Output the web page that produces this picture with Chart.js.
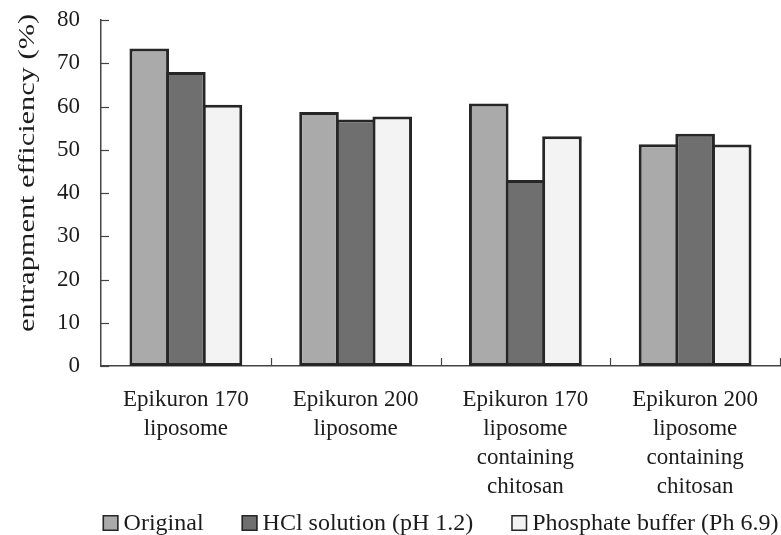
<!DOCTYPE html>
<html>
<head>
<meta charset="utf-8">
<script src="https://cdn.jsdelivr.net/npm/chart.js@4.4.1/dist/chart.umd.min.js"></script>
<style>
  html, body { margin: 0; padding: 0; background: #ffffff; }
  #wrap { width: 781px; height: 535px; position: relative; }
</style>
</head>
<body>
<div id="wrap"><canvas id="c" width="781" height="535"></canvas></div>
<script>
const categories = [
  ["Epikuron 170", "liposome"],
  ["Epikuron 200", "liposome"],
  ["Epikuron 170", "liposome", "containing", "chitosan"],
  ["Epikuron 200", "liposome", "containing", "chitosan"]
];
const seriesNames = ["Original", "HCl solution (pH 1.2)", "Phosphate buffer (Ph 6.9)"];
const originalValues = [73.4, 58.7, 60.7, 51.3];
const hclValues = [68.0, 57.0, 43.0, 53.7];
const phosphateValues = [60.4, 57.7, 53.1, 51.2];
const yTickValues = [0, 10, 20, 30, 40, 50, 60, 70, 80];
const yAxisTitle = "entrapment efficiency (%)";

const FONT = "'Liberation Serif', 'Times New Roman', serif";
const TEXT = "#1c1c1c";
const EDGE = "#262626";

const tickMarks = {
  id: 'tickMarks',
  afterDatasetsDraw(chart) {
    const ctx = chart.ctx;
    const x = chart.scales.x, y = chart.scales.y;
    ctx.save();
    ctx.strokeStyle = "#444";
    ctx.lineWidth = 1.2;
    yTickValues.forEach(v => {
      const py = Math.round(y.getPixelForValue(v)) + 0.5;
      ctx.beginPath();
      ctx.moveTo(x.left, py);
      ctx.lineTo(x.left + 8, py);
      ctx.stroke();
    });
    const half = (x.getPixelForValue(1) - x.getPixelForValue(0)) / 2;
    for (let i = 0; i < categories.length; i++) {
      const px = Math.round(x.getPixelForValue(i) + half) + 0.5;
      ctx.beginPath();
      ctx.moveTo(px, y.bottom);
      ctx.lineTo(px, y.bottom - 8);
      ctx.stroke();
    }
    ctx.restore();
  }
};

// y-axis title (stretched along its length like the reference)
const yTitle = {
  id: 'yTitle',
  afterDraw(chart) {
    const ctx = chart.ctx;
    const y = chart.scales.y;
    ctx.save();
    ctx.font = "23px " + FONT;
    ctx.fillStyle = TEXT;
    ctx.textAlign = 'center';
    ctx.textBaseline = 'middle';
    ctx.translate(28, y.getPixelForValue(40) - 20);
    ctx.rotate(-Math.PI / 2);
    ctx.scale(1.32, 1);
    ctx.fillText(yAxisTitle, 0, 0);
    ctx.restore();
  }
};

// legend drawn under the chart, centred on the plot area
const bottomLegend = {
  id: 'bottomLegend',
  afterDraw(chart) {
    const ctx = chart.ctx;
    const area = chart.chartArea;
    const box = 16, gap = 5, spacing = 38;
    ctx.save();
    ctx.font = "24px " + FONT;
    ctx.textBaseline = 'middle';
    ctx.textAlign = 'left';
    const items = chart.data.datasets.map(d => ({ text: d.label, fill: d.backgroundColor, w: ctx.measureText(d.label).width }));
    const total = items.reduce((s, it) => s + box + gap + it.w, 0) + spacing * (items.length - 1);
    let cx = (area.left + area.right) / 2 - total / 2;
    const cy = 523;
    items.forEach(it => {
      ctx.fillStyle = it.fill;
      ctx.fillRect(cx, cy - box / 2, box, box);
      ctx.strokeStyle = EDGE;
      ctx.lineWidth = 1.5;
      ctx.strokeRect(cx + 0.75, cy - box / 2 + 0.75, box - 1.5, box - 1.5);
      ctx.fillStyle = TEXT;
      ctx.fillText(it.text, cx + box + gap, cy + 1);
      cx += box + gap + it.w + spacing;
    });
    ctx.restore();
  }
};

new Chart(document.getElementById('c'), {
  type: 'bar',
  data: {
    labels: categories,
    datasets: [
      { label: seriesNames[0], data: originalValues, backgroundColor: "#aaaaaa" },
      { label: seriesNames[1], data: hclValues, backgroundColor: "#6f6f6f" },
      { label: seriesNames[2], data: phosphateValues, backgroundColor: "#f3f3f3" }
    ].map(d => Object.assign(d, {
      borderColor: EDGE, borderWidth: 3, borderSkipped: false,
      categoryPercentage: 0.647, barPercentage: 1.082
    }))
  },
  options: {
    responsive: false,
    animation: false,
    devicePixelRatio: 1,
    layout: { padding: { top: 20, right: 1, left: 0, bottom: 14 } },
    plugins: {
      legend: { display: false },
      tooltip: { enabled: false }
    },
    scales: {
      x: {
        grid: { display: false, drawTicks: false },
        border: { display: true, color: "#444", width: 1.5 },
        ticks: {
          color: TEXT,
          font: { family: FONT, size: 23, lineHeight: 1.25 },
          padding: 20,
          maxRotation: 0, minRotation: 0, autoSkip: false
        }
      },
      y: {
        min: 0, max: 80,
        grid: { display: false, drawTicks: false },
        border: { display: true, color: "#444", width: 1.5 },
        afterBuildTicks: s => { s.ticks = yTickValues.map(v => ({ value: v })); },
        afterFit: s => { s.width = 101; s.paddingTop = 0; s.paddingBottom = 0; },
        ticks: {
          color: TEXT,
          font: { family: FONT, size: 23 },
          padding: 21,
          autoSkip: false
        },
        title: { display: false, text: yAxisTitle }
      }
    }
  },
  plugins: [tickMarks, yTitle, bottomLegend]
});
</script>
</body>
</html>
